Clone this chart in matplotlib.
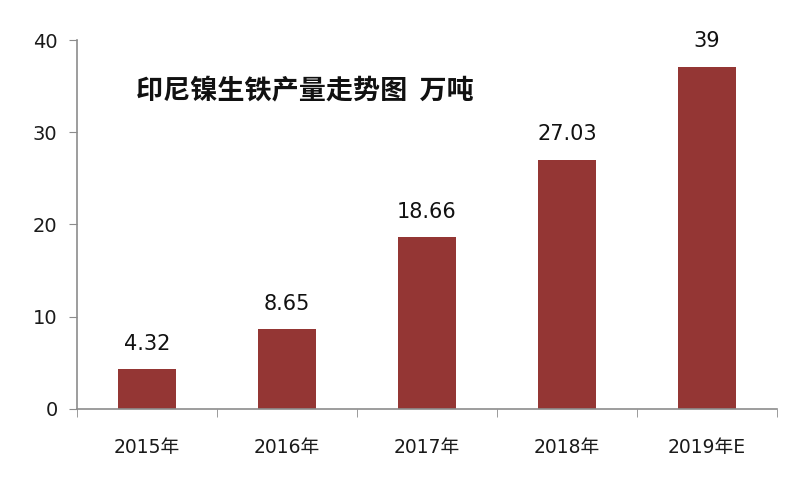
import numpy as np
import matplotlib
matplotlib.use("Agg")
import matplotlib.pyplot as plt

plt.rcParams['font.family'] = ['DejaVu Sans', 'Noto Sans CJK SC']

# data (the 2019E bar is drawn shorter than its "39" label)
years = ['2015年', '2016年', '2017年', '2018年', '2019年E']
output = [4.32, 8.65, 18.66, 27.03, 37.1]
value_labels = ['4.32', '8.65', '18.66', '27.03', '39']
yticks = [0, 10, 20, 30, 40]

bar_color = '#943634'
axis_color = '#8c8c8c'

fig = plt.figure(figsize=(8.07, 4.88), dpi=100)
ax = fig.add_axes([0.0954, 0.162, 0.8675, 0.756])

x = np.arange(len(years))
bars = ax.bar(x, output, width=0.41, color=bar_color, zorder=2)

for b, lab in zip(bars, value_labels):
    ax.annotate(lab, (b.get_x() + b.get_width() / 2, b.get_height()),
                xytext=(0, 11), textcoords='offset points',
                ha='center', va='bottom', fontsize=15, color='#111111')

ax.set_xlim(-0.5, len(years) - 0.5)
ax.set_ylim(0, 40)
ax.set_yticks(yticks)
ax.set_yticklabels([str(v) for v in yticks], fontsize=14, color='#1a1a1a')

# category labels centred, tick marks on category boundaries
ax.set_xticks(x)
ax.set_xticklabels(years, fontsize=13.5, color='#1a1a1a')
ax.tick_params(axis='x', which='major', length=0, pad=21)
ax.set_xticks(np.arange(-0.5, len(years)), minor=True)
ax.tick_params(axis='x', which='minor', length=6, color=axis_color, direction='out')
ax.tick_params(axis='y', length=6, color=axis_color, direction='out', pad=8)

for s in ['top', 'right']:
    ax.spines[s].set_visible(False)
for s in ['left', 'bottom']:
    ax.spines[s].set_color(axis_color)
    ax.spines[s].set_linewidth(1.2)

ax.text(0.325, 0.864, '印尼镍生铁产量走势图  万吨', transform=ax.transAxes,
        ha='center', va='center', fontsize=19.5, fontweight='bold',
        family=['Noto Sans CJK SC', 'DejaVu Sans'], color='#111111')

fig.savefig('out.png', dpi=100)
